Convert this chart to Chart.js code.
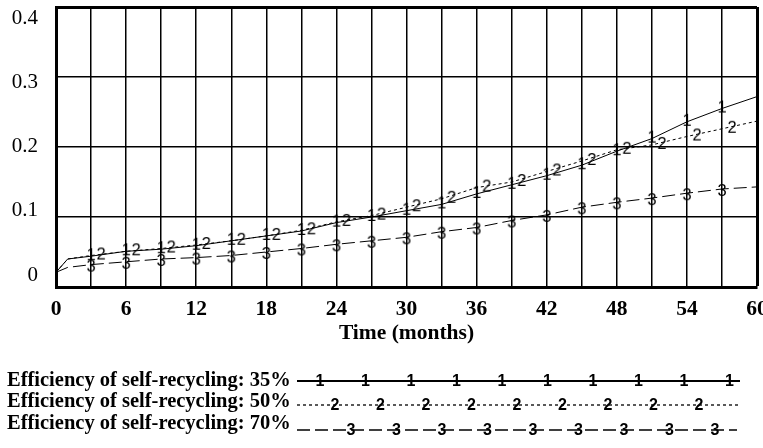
<!DOCTYPE html>
<html><head><meta charset="utf-8">
<script src="https://cdn.jsdelivr.net/npm/chart.js@4.4.0/dist/chart.umd.min.js"></script>
<style>html,body{margin:0;padding:0;background:#fff;}#wrap{width:763px;height:448px;position:relative;}</style>
</head><body><div id="wrap"><canvas id="c" width="763" height="448"></canvas></div>
<script>
// ---- data ----
const months = [0,1,3,6,9,12,15,18,21,24,27,30,33,36,39,42,45,48,51,54,57,60];
const eff35 = [0.021,0.040,0.044,0.051,0.054,0.059,0.066,0.073,0.080,0.092,0.100,0.109,0.118,0.133,0.146,0.159,0.174,0.194,0.212,0.236,0.255,0.272];
const eff50 = [0.021,0.040,0.045,0.051,0.055,0.060,0.066,0.073,0.081,0.093,0.102,0.114,0.126,0.142,0.150,0.165,0.180,0.196,0.203,0.215,0.226,0.237];
const eff70 = [0.021,0.028,0.032,0.036,0.040,0.042,0.045,0.050,0.055,0.061,0.066,0.071,0.079,0.085,0.095,0.103,0.114,0.121,0.127,0.134,0.140,0.143];
const seriesNames = ['Efficiency of self-recycling: 35%','Efficiency of self-recycling: 50%','Efficiency of self-recycling: 70%'];
const seriesMarks = ['1','2','3'];
const yTickValues = [0,0.1,0.2,0.3,0.4];
const yTickLabels = ['0','0.1','0.2','0.3','0.4'];
const xTitle = 'Time (months)';

const SERIF = '"Liberation Serif", "Times New Roman", Times, serif';
const SANS = '"Liberation Sans", Arial, sans-serif';

function markCanvas(ch, dx, dy) {
  const c = document.createElement('canvas');
  c.width = 36; c.height = 28;
  const g = c.getContext('2d');
  g.font = '16.5px ' + SANS;
  g.fillStyle = '#000';
  g.textAlign = 'center';
  g.textBaseline = 'middle';
  g.fillText(ch, 18 + dx, 14 + dy);
  return c;
}
const markImgs = [markCanvas('1', 0, -1), markCanvas('2', 10, -1), markCanvas('3', 0, 2)];
const dashes = [[], [3, 3], [13, 5]];
const seriesData = [eff35, eff50, eff70];

const datasets = seriesData.map((arr, i) => ({
  label: seriesNames[i],
  data: months.map((m, j) => ({x: m, y: arr[j]})),
  borderColor: '#000',
  borderWidth: 1,
  borderDash: dashes[i],
  fill: false,
  tension: 0,
  pointStyle: markImgs[i],
  pointRadius: (c) => (c.dataIndex < 2 || c.dataIndex === months.length - 1) ? 0 : 3,
  clip: false
}));

const legendPlugin = {
  id: 'sampleLegend',
  afterDraw(chart) {
    const ctx = chart.ctx;
    const rows = [{ty: 381, ly: 381, start: 320, n: 10, end: 740},
                  {ty: 402, ly: 405, start: 335, n: 9, end: 740},
                  {ty: 424, ly: 430, start: 351, n: 9, end: 737}];
    chart.data.datasets.forEach((ds, i) => {
      const r = rows[i];
      ctx.save();
      ctx.fillStyle = '#000';
      ctx.font = 'bold 20.5px ' + SERIF;
      ctx.textAlign = 'left';
      ctx.textBaseline = 'middle';
      ctx.fillText(ds.label, 7, r.ty);
      ctx.strokeStyle = '#000';
      ctx.lineWidth = i === 0 ? 2 : 1.3;
      ctx.setLineDash(ds.borderDash || []);
      ctx.beginPath();
      ctx.moveTo(297, r.ly);
      ctx.lineTo(r.end, r.ly);
      ctx.stroke();
      ctx.setLineDash([]);
      ctx.font = 'bold 16px ' + SANS;
      ctx.textAlign = 'center';
      for (let k = 0; k < r.n; k++) {
        ctx.fillText(seriesMarks[i], r.start + 45.5 * k, r.ly + 1);
      }
      ctx.restore();
    });
  }
};

new Chart(document.getElementById('c'), {
  type: 'line',
  data: {datasets},
  plugins: [legendPlugin],
  options: {
    responsive: false,
    animation: false,
    events: [],
    layout: {padding: {top: 7, right: 6, left: 0, bottom: 100}},
    plugins: {legend: {display: false}, tooltip: {enabled: false}},
    scales: {
      x: {
        type: 'linear', min: 0, max: 60,
        ticks: {
          stepSize: 3, autoSkip: false, maxRotation: 0, padding: 10, color: '#000',
          font: {family: SERIF, size: 21.5, weight: 'bold', lineHeight: 1.2},
          callback: (v) => (v % 6 === 0 ? String(v) : '')
        },
        grid: {color: '#000', lineWidth: (c) => (c.tick && c.tick.value === 60 ? 3 : 1.5), drawTicks: false},
        border: {display: true, color: '#000', width: 3},
        title: {display: true, text: xTitle, color: '#000',
          font: {family: SERIF, size: 21.5, weight: 'bold', lineHeight: 1.2}, padding: {top: 0, bottom: 2}},
        afterFit(s) { s.height = 61; s.paddingLeft = 0; s.paddingRight = 0; }
      },
      y: {
        type: 'linear', position: 'left', min: 0, max: 0.4,
        ticks: {display: false, stepSize: 0.1},
        grid: {color: '#000', lineWidth: (c) => (c.tick && Math.abs(c.tick.value - 0.4) < 1e-9 ? 3 : 1.5), drawTicks: false},
        border: {display: true, color: '#000', width: 3},
        afterFit(s) { s.width = 0; s.paddingTop = 0; s.paddingBottom = 0; }
      },
      yl: {
        type: 'linear', position: 'left', min: -0.01868, max: 0.4171,
        grid: {display: false, drawTicks: false},
        border: {display: false},
        ticks: {padding: 18, color: '#000', font: {family: SERIF, size: 21},
          callback: (v, i) => yTickLabels[i]},
        afterBuildTicks(s) { s.ticks = yTickValues.map(v => ({value: v})); },
        afterFit(s) { s.width = 56; s.paddingTop = 0; s.paddingBottom = 0; }
      }
    }
  }
});
</script>
</body></html>
